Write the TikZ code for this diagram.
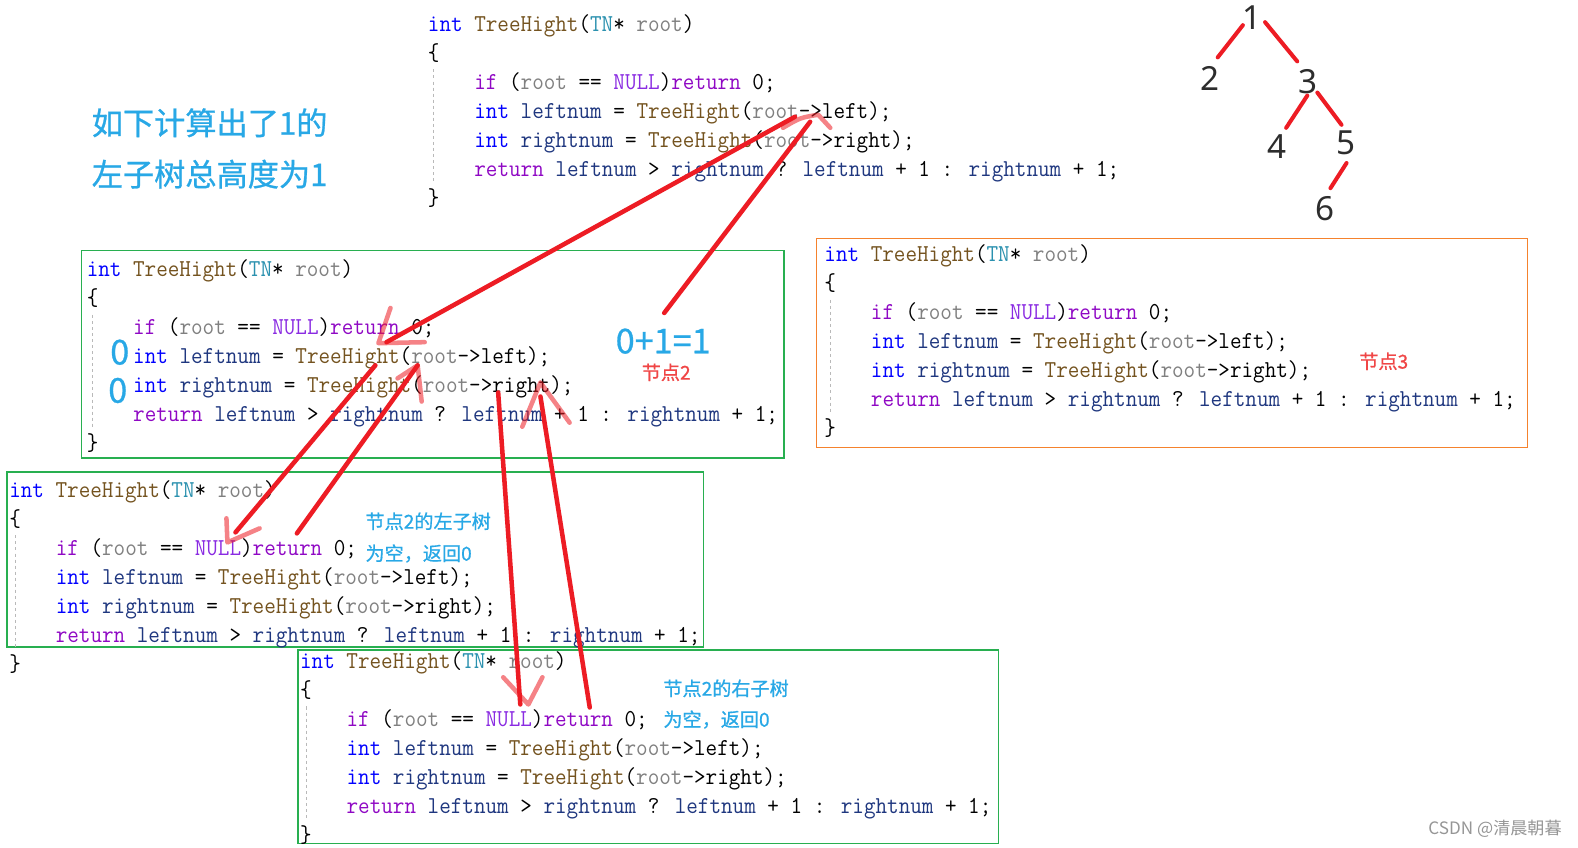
\documentclass[tikz,border=0pt]{standalone}
\usepackage{fontspec}
\usepackage{graphicx}
\setmainfont{Liberation Sans}
\newfontfamily\cjk{Noto Sans CJK SC}
\newfontfamily\cjkm{Noto Sans CJK SC}[FakeBold=0.8]
\newfontfamily\treefont{Noto Sans}

\definecolor{kwblue}{RGB}{0,0,255}
\definecolor{fnbrown}{RGB}{116,83,31}
\definecolor{tyteal}{RGB}{43,145,175}
\definecolor{pagray}{RGB}{128,128,128}
\definecolor{ctpurple}{RGB}{143,8,196}
\definecolor{mapurple}{RGB}{138,43,226}
\definecolor{lvnavy}{RGB}{31,55,127}
\definecolor{annblue}{RGB}{40,168,230}
\definecolor{annred}{RGB}{240,70,70}
\definecolor{penred}{RGB}{237,28,36}
\definecolor{boxgreen}{RGB}{40,175,80}
\definecolor{boxorange}{RGB}{245,130,45}
\definecolor{treegray}{RGB}{45,45,45}
\definecolor{wmgray}{RGB}{150,150,150}

\newcommand\KW[1]{\textcolor{kwblue}{#1}}
\newcommand\FN[1]{\textcolor{fnbrown}{#1}}
\newcommand\TY[1]{\textcolor{tyteal}{#1}}
\newcommand\PA[1]{\textcolor{pagray}{#1}}
\newcommand\CT[1]{\textcolor{ctpurple}{#1}}
\newcommand\MA[1]{\textcolor{mapurple}{#1}}
\newcommand\LV[1]{\textcolor{lvnavy}{#1}}
\newcommand\cd[1]{\scalebox{1}[1.08]{#1}}

\newcommand\codeblk[3]{%
 \node[code] (#1-1) at (#2,#3) {\cd{\KW{int} \FN{TreeHight}(\TY{TN}* \PA{root})}};
 \node[code] (#1-2) at (#2,{#3+28.8}) {\cd{\{}};
 \node[code] (#1-3) at ({#2+46.2},{#3+57.6}) {\cd{\CT{if} (\PA{root} == \MA{NULL})\CT{return} 0;}};
 \node[code] (#1-4) at ({#2+46.2},{#3+86.4}) {\cd{\KW{int} \LV{leftnum} = \FN{TreeHight}(\PA{root}->left);}};
 \node[code] (#1-5) at ({#2+46.2},{#3+115.2}) {\cd{\KW{int} \LV{rightnum} = \FN{TreeHight}(\PA{root}->right);}};
 \node[code] (#1-6) at ({#2+46.2},{#3+144}) {\cd{\CT{return} \LV{leftnum} > \LV{rightnum} ? \LV{leftnum} + 1 : \LV{rightnum} + 1;}};
 \node[code] (#1-7) at (#2,{#3+172.8}) {\cd{\}}};
 \draw[guide] ({#2+6},{#3+45}) -- ({#2+6},{#3+158});
}

\tikzset{
 code/.style={anchor=west, inner sep=0pt, text height=14pt, text depth=0pt,
   font=\ttfamily\fontsize{22.35}{26}\selectfont},
 guide/.style={draw=gray!55, dashed, line width=0.8pt},
 gbox/.style={draw=boxgreen, line width=1.3pt},
 obox/.style={draw=boxorange, line width=1.3pt},
 pen/.style={draw=penred, line width=4.5pt, line cap=round, line join=round},
 penlight/.style={pen, draw opacity=0.55},
 annb/.style={text=annblue, inner sep=0pt, font=\cjkm\fontsize{31}{36}\selectfont},
 anns/.style={text=annblue, inner sep=0pt, anchor=west, font=\cjkm\fontsize{19}{22}\selectfont},
 annr/.style={text=annred, inner sep=0pt, font=\cjkm\fontsize{19}{22}\selectfont},
 annbig/.style={text=annblue, inner sep=0pt, font=\cjkm\fontsize{34}{38}\selectfont},
 treenum/.style={text=treegray, inner sep=0pt, font=\treefont\fontsize{33}{36}\selectfont},
}

\begin{document}
\begin{tikzpicture}[x=1pt,y=-1pt]
\fill[white] (0,0) rectangle (1568,842);
\useasboundingbox (0,0) rectangle (1568,842);

% boxes
\draw[gbox] (81,249) rectangle (779,455);
\draw[obox] (811,237) rectangle (1518,445);
\draw[gbox] (7,469) rectangle (699,643);
\draw[gbox] (296,646) rectangle (992,838);

% code blocks
\codeblk{top}{425}{24}
\codeblk{nb}{86}{268}
\codeblk{nc}{819}{253}
\codeblk{nl}{9}{487}
\codeblk{nr}{298}{657}

% annotations
\node[annb, anchor=west] (t1) at (91,122) {如下计算出了1的};
\node[annb, anchor=west] (t2) at (91,173) {左子树总高度为1};
\node[annbig] (sum) at (659,339) {0+1=1};
\node[annr] (lab2) at (662,370) {节点2};
\node[annr] (lab3) at (1375,359) {节点3};
\node[annbig] (zl) at (119,350) {0};
\node[annbig] (zr) at (117,388) {0};
\node[anns] (ls1) at (363,518) {节点2的左子树};
\node[anns] (ls2) at (363,550) {为空，返回0};
\node[anns] (rs1) at (659,684) {节点2的右子树};
\node[anns] (rs2) at (659,715) {为空，返回0};
\node[text=wmgray, inner sep=0pt, anchor=east, font=\cjk\fontsize{17}{19}\selectfont] (wm) at (1552,824) {CSDN @清晨朝暮};

% tree
\node[treenum] (n1) at (1244,18) {1};
\node[treenum] (n2) at (1202,78) {2};
\node[treenum] (n3) at (1300,81) {3};
\node[treenum] (n4) at (1269,146) {4};
\node[treenum] (n5) at (1337,142) {5};
\node[treenum] (n6) at (1317,207) {6};
\coordinate (e12a) at (1235,25); \coordinate (e12b) at (1210,57);
\coordinate (e13a) at (1257,22); \coordinate (e13b) at (1289,61);
\coordinate (e34a) at (1299,95); \coordinate (e34b) at (1278,127);
\coordinate (e35a) at (1309,92); \coordinate (e35b) at (1333,124);
\coordinate (e56a) at (1338,162); \coordinate (e56b) at (1322,187);
\draw[pen, line width=4pt] (e12a) -- (e12b);
\draw[pen, line width=4pt] (e13a) -- (e13b);
\draw[pen, line width=4pt] (e34a) -- (e34b);
\draw[pen, line width=4pt] (e35a) -- (e35b);
\draw[pen, line width=4pt] (e56a) -- (e56b);

% red pen strokes
% A: top call -> node 2
\coordinate (A1) at (790,116); \coordinate (A2) at (384,340);
\coordinate (Ah1) at (388,306); \coordinate (Ah2) at (376,341); \coordinate (Ah3) at (422,340);
\draw[pen] (A1) -- (A2);
\draw[penlight] (Ah1) -- (Ah2) -- (Ah3);
% B: node 2 left call -> left subtree
\coordinate (B1) at (373,363); \coordinate (B2) at (234,529);
\coordinate (Bh1) at (225,515); \coordinate (Bh2) at (226,539); \coordinate (Bh3) at (258,525);
\draw[pen] (B1) -- (B2);
\draw[penlight] (Bh1) -- (Bh2) -- (Bh3);
% C: left subtree returns 0
\coordinate (C1) at (295,530); \coordinate (C2) at (415,363);
\coordinate (Ch1) at (395,376); \coordinate (Ch2) at (419,399);
\draw[pen] (C1) -- (C2);
\draw[penlight] (Ch1) -- (C2) -- (Ch2);
% D: node 2 right call -> right subtree
\coordinate (D1) at (495,390); \coordinate (D2) at (517,700);
\coordinate (Dh1) at (500,673); \coordinate (Dh2) at (525,700); \coordinate (Dh3) at (539,673);
\draw[pen] (D1) -- (D2);
\draw[penlight] (Dh1) -- (Dh2) -- (Dh3);
% E: right subtree returns 0
\coordinate (E1) at (586,703); \coordinate (E2) at (537,394);
\coordinate (Eh1) at (519,424); \coordinate (Eh2) at (537,380); \coordinate (Eh3) at (566,420);
\draw[pen] (E1) -- (E2);
\draw[penlight] (Eh1) -- (Eh2) -- (Eh3);
% F: node 2 returns 1 to top
\coordinate (F1) at (660,311); \coordinate (F2) at (805,121);
\coordinate (Fh1) at (778,127); \coordinate (Fh2) at (813,114); \coordinate (Fh3) at (825,127);
\draw[pen] (F1) -- (F2);
\draw[penlight] (Fh1) .. controls (795,117) .. (Fh2) -- (Fh3);
\end{tikzpicture}
\end{document}
